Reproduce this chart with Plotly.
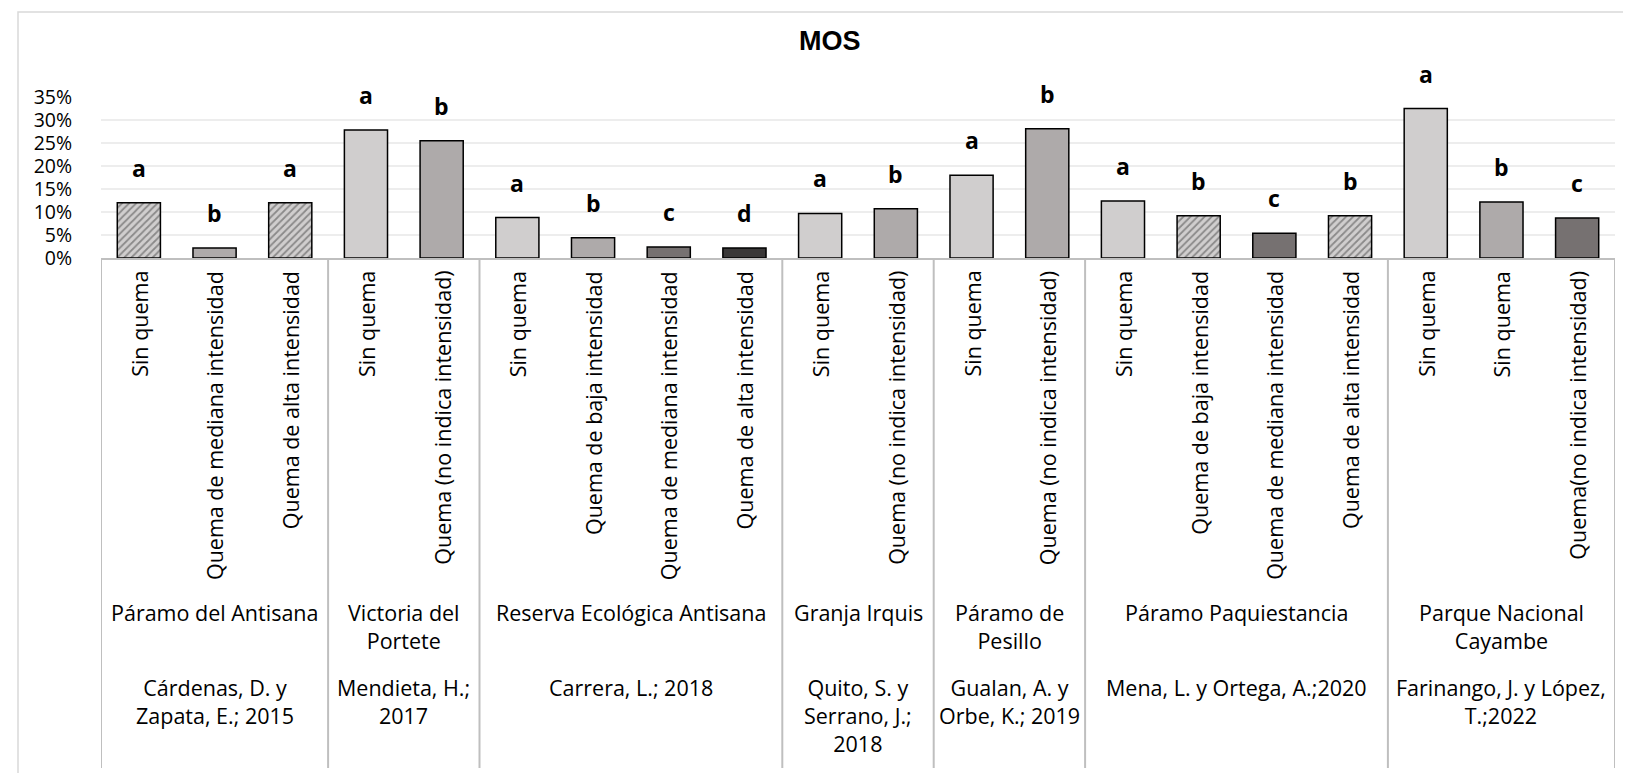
import plotly.graph_objects as go

# ---- data ----
treatments = [
    "Sin quema", "Quema de mediana intensidad", "Quema de alta intensidad",
    "Sin quema", "Quema (no indica intensidad)",
    "Sin quema", "Quema de baja intensidad", "Quema de mediana intensidad", "Quema de alta intensidad",
    "Sin quema", "Quema (no indica intensidad)",
    "Sin quema", "Quema (no indica intensidad)",
    "Sin quema", "Quema de baja intensidad", "Quema de mediana intensidad", "Quema de alta intensidad",
    "Sin quema", "Sin quema", "Quema(no indica intensidad)",
]
mos = [
    0.12, 0.022, 0.12,
    0.278, 0.255,
    0.088, 0.044, 0.024, 0.022,
    0.097, 0.107,
    0.180, 0.281,
    0.124, 0.092, 0.054, 0.092,
    0.325, 0.122, 0.087,
]
letters = [
    "a", "b", "a",
    "a", "b",
    "a", "b", "c", "d",
    "a", "b",
    "a", "b",
    "a", "b", "c", "b",
    "a", "b", "c",
]
sites = [
    "Páramo del Antisana", "Victoria del<br>Portete", "Reserva Ecológica Antisana",
    "Granja Irquis", "Páramo de<br>Pesillo", "Páramo Paquiestancia",
    "Parque Nacional<br>Cayambe",
]
authors = [
    "Cárdenas, D. y<br>Zapata, E.; 2015", "Mendieta, H.;<br>2017", "Carrera, L.; 2018",
    "Quito, S. y<br>Serrano, J.;<br>2018", "Gualan, A. y<br>Orbe, K.; 2019",
    "Mena, L. y Ortega, A.;2020", "Farinango, J. y López,<br>T.;2022",
]
group_sizes = [3, 2, 4, 2, 2, 4, 3]

# ---- styles ----
LIGHT, MID, DARK, DARKEST = "#D0CECE", "#AEAAAA", "#767171", "#3A3838"
colors = [
    LIGHT, MID, LIGHT,
    LIGHT, MID,
    LIGHT, MID, DARK, DARKEST,
    LIGHT, MID,
    LIGHT, MID,
    LIGHT, LIGHT, DARK, LIGHT,
    LIGHT, MID, DARK,
]
hatched = [
    True, False, True,
    False, False,
    False, False, False, False,
    False, False,
    False, False,
    False, True, False, True,
    False, False, False,
]

W, H = 1631, 773
L, R, T, B = 93, 1607, 89, 250
FONT = "Open Sans"
GRID = "#BFBFBF"


def px_x(x):
    return (x - L) / (R - L)


def px_y(y):
    return (B - y) / (B - T)


x = list(range(len(mos)))
fig = go.Figure()
fig.add_trace(
    go.Bar(
        x=x,
        y=mos,
        width=0.57,
        marker=dict(
            color=colors,
            line=dict(color="black", width=1.5),
            pattern=dict(
                shape=["/" if h else "" for h in hatched],
                fgcolor="#1a1a1a",
                bgcolor=colors,
                size=5,
                solidity=0.35,
            ),
        ),
        showlegend=False,
        hoverinfo="skip",
    )
)

annotations = []
# significance letters
for i, (v, lt) in enumerate(zip(mos, letters)):
    annotations.append(dict(
        x=i, y=v, text=lt, showarrow=False, yanchor="middle", yshift=35,
        font=dict(family=FONT, size=23, color="black", weight="bold"),
    ))
# treatment labels (rotated)
for i, t in enumerate(treatments):
    annotations.append(dict(
        x=i, y=px_y(261), yref="paper", text=t, textangle=-90, showarrow=False,
        xanchor="center", yanchor="top",
        font=dict(family=FONT, size=21.5, color="black"),
    ))

shapes = []
start = 0
bounds = [-0.5]
for g, n in enumerate(group_sizes):
    mid = start + (n - 1) / 2
    annotations.append(dict(
        x=mid, y=px_y(588), yref="paper", text=sites[g], showarrow=False,
        xanchor="center", yanchor="top", align="center",
        font=dict(family=FONT, size=21.5, color="black"),
    ))
    annotations.append(dict(
        x=mid, y=px_y(663), yref="paper", text=authors[g], showarrow=False,
        xanchor="center", yanchor="top", align="center",
        font=dict(family=FONT, size=21.5, color="black"),
    ))
    start += n
    bounds.append(start - 0.5)

for b in bounds:
    shapes.append(dict(
        type="line", xref="x", yref="paper", x0=b, x1=b, y0=0, y1=px_y(760),
        line=dict(color=GRID, width=2),
    ))

# chart border
shapes.append(dict(
    type="rect", xref="paper", yref="paper",
    x0=px_x(10), x1=px_x(1660), y0=px_y(4), y1=px_y(800),
    line=dict(color="#D9D9D9", width=1.5), layer="below",
))

annotations.append(dict(
    x=px_x(822), y=px_y(33), xref="paper", yref="paper", text="<b>MOS</b>",
    showarrow=False, xanchor="center", yanchor="middle",
    font=dict(family="Liberation Sans", size=27, color="black"),
))

fig.update_layout(
    width=W,
    height=H,
    margin=dict(l=L, r=W - R, t=T, b=H - B, pad=0),
    plot_bgcolor="white",
    paper_bgcolor="white",
    bargap=0.43,
    xaxis=dict(
        range=[-0.5, len(mos) - 0.5],
        showticklabels=False,
        showgrid=False,
        zeroline=False,
        showline=True,
        linecolor=GRID,
        linewidth=2,
        ticks="",
        fixedrange=True,
    ),
    yaxis=dict(
        range=[0, 0.35],
        dtick=0.05,
        tickformat=".0%",
        showgrid=True,
        gridcolor="#EDEDED",
        gridwidth=1.5,
        zeroline=False,
        showline=False,
        ticks="outside",
        ticklen=24,
        tickcolor="rgba(0,0,0,0)",
        tickfont=dict(family=FONT, size=19.5, color="black"),
        fixedrange=True,
    ),
    annotations=annotations,
    shapes=shapes,
)

fig.write_html("out.html")
